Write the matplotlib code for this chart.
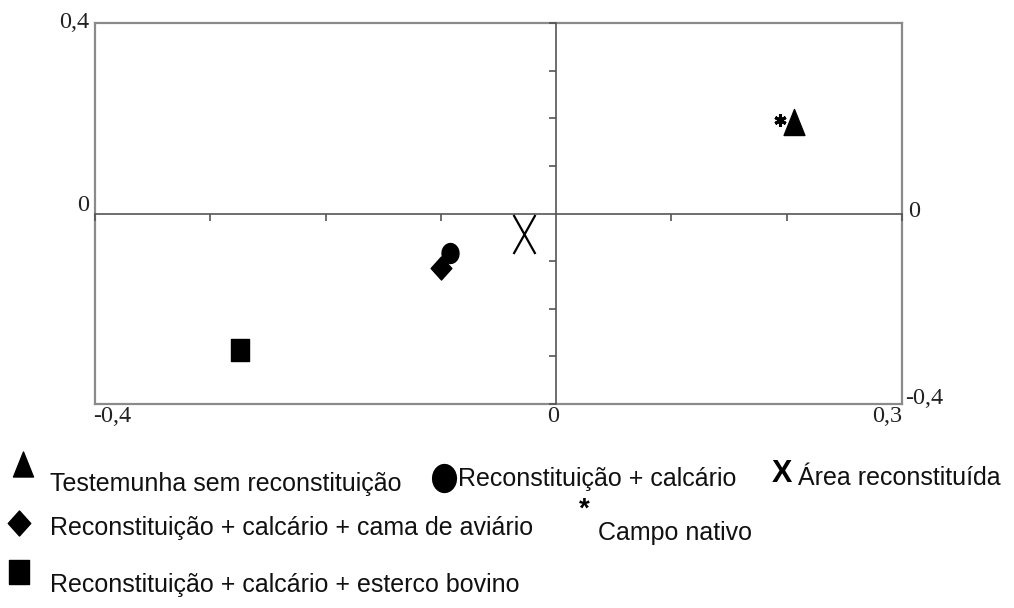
import matplotlib.pyplot as plt
from matplotlib.path import Path

# ordination scores
treatments = [
    "Testemunha sem reconstituição",
    "Reconstituição + calcário",
    "Área reconstituída",
    "Reconstituição + calcário + cama de aviário",
    "Campo nativo",
    "Reconstituição + calcário + esterco bovino",
]
axis1 = [0.206, -0.092, -0.028, -0.100, 0.194, -0.274]
axis2 = [0.193, -0.082, -0.042, -0.114, 0.196, -0.286]

x_ticks = [-0.4, -0.3, -0.2, -0.1, 0.1, 0.2, 0.3]
y_ticks = [-0.4, -0.3, -0.2, -0.1, 0.1, 0.2, 0.3, 0.4]

SERIF = "Liberation Serif"
SANS = "Liberation Sans"
PX = 72 / 100  # points per pixel at dpi 100


def shape(verts, closed=True):
    if closed:
        codes = [Path.MOVETO] + [Path.LINETO] * (len(verts) - 1) + [Path.CLOSEPOLY]
        return Path(verts + [verts[0]], codes)
    return Path(verts, [Path.MOVETO, Path.LINETO] * (len(verts) // 2))


TRI = shape([(-0.8, -1), (0.8, -1), (0, 1)])
DIA = shape([(0, 1), (0.9, 0), (0, -1), (-0.9, 0)])
SQR = shape([(-0.82, -1), (0.82, -1), (0.82, 1), (-0.82, 1)])
ELL = shape([(0.85 * __import__("math").cos(t / 24 * 6.2832),
              __import__("math").sin(t / 24 * 6.2832)) for t in range(24)])
XMK = shape([(-0.56, -1), (0.56, 1), (-0.56, 1), (0.56, -1)], closed=False)

styles = [
    dict(marker=TRI, ms=26 * PX),
    dict(marker=ELL, ms=20 * PX),
    dict(marker=XMK, ms=39 * PX, mfc="none", mew=1.6),
    dict(marker=DIA, ms=23 * PX),
    dict(marker=(6, 2, 0), ms=12 * PX, mew=2.2),
    dict(marker=SQR, ms=22 * PX),
]

fig = plt.figure(figsize=(10.14, 6.08), dpi=100)
rect = [95 / 1014, 1 - 404 / 608, 807 / 1014, 381 / 608]

# outer frame
frame = fig.add_axes(rect)
frame.set_xticks([])
frame.set_yticks([])
for sp in frame.spines.values():
    sp.set_color("#8a8a8a")
    sp.set_linewidth(1.6)
frame.patch.set_alpha(0)

ax = fig.add_axes(rect)
ax.set_xlim(-0.4, 0.3)
ax.set_ylim(-0.4, 0.4)
ax.patch.set_alpha(0)
ax.spines["top"].set_visible(False)
ax.spines["right"].set_visible(False)
ax.spines["bottom"].set_position(("data", 0))
ax.spines["left"].set_position(("data", 0))
for s in ("bottom", "left"):
    ax.spines[s].set_color("#555555")
    ax.spines[s].set_linewidth(1.2)
ax.set_xticks(x_ticks)
ax.set_yticks(y_ticks)
ax.tick_params(direction="out", length=5, width=1.2, color="#555555",
               labelbottom=False, labelleft=False)

for x, y, st in zip(axis1, axis2, styles):
    ax.plot(x, y, linestyle="none", color="black", mfc=st.pop("mfc", "black"),
            mec="black", zorder=3, **st)

# axis value labels in serif, placed like the original
tk = dict(fontsize=17.5, family=SERIF, color="#222222")
ax.text(-0.405, 0.4, "0,4", ha="right", va="center", **tk)
ax.text(-0.405, -0.005, "0", ha="right", va="bottom", **tk)
ax.text(-0.402, -0.405, "-0,4", ha="left", va="top", **tk)
ax.text(-0.003, -0.405, "0", ha="center", va="top", **tk)
ax.text(0.3, -0.405, "0,3", ha="right", va="top", **tk)
ax.text(0.305, 0.005, "0", ha="left", va="center", **tk)
ax.text(0.303, -0.41, "-0,4", ha="left", va="bottom", **tk)

# legend drawn in pixel coordinates below the plot
lg = fig.add_axes([0, 0, 1, 1])
lg.set_xlim(0, 1014)
lg.set_ylim(608, 0)
lg.axis("off")
lt = dict(fontsize=18, family=SANS, color="#111111", va="center", ha="left")

lg.plot(23, 464, marker=TRI, ms=25 * PX, color="black", linestyle="none")
lg.text(50, 484, treatments[0], **lt)
lg.plot(444, 478, marker=ELL, ms=28 * PX, color="black", linestyle="none")
lg.text(458, 479, treatments[1], **lt)
lg.text(782, 474, "X", fontsize=22, fontweight="bold", family=SANS,
        ha="center", va="center")
lg.text(798, 478, treatments[2], **lt)

lg.plot(19, 523, marker=DIA, ms=25 * PX, color="black", linestyle="none")
lg.text(50, 528, treatments[3], **lt)
lg.text(584, 510, "*", fontsize=20, fontweight="bold", family=SANS,
        ha="center", va="center")
lg.text(598, 533, treatments[4], **lt)

lg.plot(19, 572, marker=SQR, ms=24 * PX, color="black", linestyle="none")
lg.text(50, 585, treatments[5], **lt)

fig.savefig("out.png", dpi=100)
